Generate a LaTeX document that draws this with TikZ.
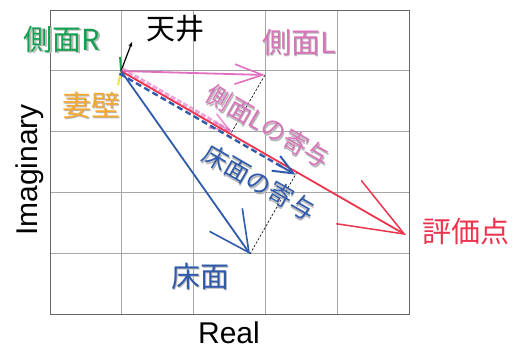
\documentclass[tikz,border=0pt]{standalone}
\usepackage{fontspec}
\setmainfont{Liberation Sans}
\newfontfamily\jp{Noto Sans CJK JP}
\usetikzlibrary{arrows.meta,calc}
\definecolor{cgreen}{RGB}{20,160,80}
\definecolor{corange}{RGB}{245,168,50}
\definecolor{cpink}{RGB}{214,118,184}
\definecolor{cpinkline}{RGB}{225,110,190}
\definecolor{cred}{RGB}{236,52,78}
\definecolor{cblue}{RGB}{48,90,170}
\definecolor{cyellow}{RGB}{240,225,40}
\newcommand\shadowtxt[2]{\makebox[0pt][l]{\kern1.5pt\raisebox{-1.5pt}{\textcolor{black!28}{#2}}}\textcolor{#1}{#2}}
\tikzset{
  gridline/.style={draw=black!35, line width=0.8pt},
  border/.style={draw=black!60, line width=1pt},
  vec/.style={line width=1.8pt},
  proj/.style={draw=black, line width=0.6pt, dash pattern=on 2.5pt off 1.5pt},
  lbl/.style={inner sep=0pt, font=\jp\fontsize{29}{29}\selectfont},
  slbl/.style={inner sep=0pt, font=\jp\fontsize{25}{25}\selectfont, rotate=-30},
  axis/.style={inner sep=0pt, font=\fontsize{30}{30}\selectfont},
}
\begin{document}
\begin{tikzpicture}[x=1pt,y=-1pt]
\useasboundingbox (0,0) rectangle (531,349);
% grid
\foreach \i in {1,...,4} {
  \draw[gridline] ({50+\i*71.8},10) -- ({50+\i*71.8},314);
  \draw[gridline] (50,{10+\i*60.8}) -- (409,{10+\i*60.8});
}
\draw[border] (50,10) rectangle (409,314);
% coordinates
\coordinate (O) at (121,71);
\coordinate (ceil) at (132,42);
\coordinate (sR) at (120,57);
\coordinate (wall) at (118,85);
\coordinate (sL) at (265,75);
\coordinate (eval) at (406,235);
\coordinate (floor) at (250,254);
\coordinate (projL) at (230.5,134);
\coordinate (projF) at (297,172);
\coordinate (OL) at (122.3,68.8);
\coordinate (projLs) at (231.8,131.8);
\coordinate (OF) at (119.5,73.6);
\coordinate (projFs) at (295.5,174.6);
\coordinate (pinkA) at ($(OL)!0.85!(projLs)$);
\coordinate (blueA) at ($(OF)!0.93!(projFs)$);
\coordinate (blueB) at ($(OF)!0.9!(projFs)$);
% projection lines
\draw[proj] (sL) -- (projL);
\draw[proj] (floor) -- (projF);
% vectors
\draw[vec, cgreen] (O) -- (sR);
\draw[vec, cyellow] (O) -- (wall);
\draw[line width=1.2pt, black, -{Stealth[length=5pt,width=4pt]}] (O) -- (ceil);
\draw[vec, cpinkline, -{Straight Barb[length=28pt,width=20pt,line width=1.6pt]}] (O) -- (sL);
\draw[line width=3.5pt, cpinkline, opacity=0.6, dash pattern=on 5pt off 2pt] (OL) -- (projLs);
\draw[line width=1.6pt, cpinkline, opacity=0.75, -{Straight Barb[length=20pt,width=16pt]}] (pinkA) -- (projLs);
\draw[vec, cred, -{Straight Barb[length=64pt,width=50pt,line width=1.5pt]}] (O) -- (eval);
\draw[line width=2.4pt, cblue, dash pattern=on 6pt off 3.5pt] (OF) -- (blueA);
\draw[line width=2pt, cblue, -{Straight Barb[length=20pt,width=17pt]}] (blueB) -- (projFs);
\draw[vec, cblue, -{Straight Barb[length=40pt,width=40pt,line width=1.6pt]}] (O) -- (floor);
% labels
\node[lbl] (tR) at (62,40) {\shadowtxt{cgreen}{側面R}};
\node[lbl] (tC) at (175,29) {\textcolor{black}{天井}};
\node[lbl] (tL) at (299,43) {\shadowtxt{cpink}{側面L}};
\node[lbl] (tW) at (91,106) {\shadowtxt{corange}{妻壁}};
\node[slbl] (tLc) at (268,127) {\shadowtxt{cpink}{側面Lの寄与}};
\node[slbl] (tFc) at (259,183) {\shadowtxt{cblue}{床面の寄与}};
\node[lbl] (tF) at (200,277) {\shadowtxt{cblue}{床面}};
\node[lbl] (tE) at (466,231) {\textcolor{cred}{評価点}};
\node[axis] (xr) at (229,333) {Real};
\node[axis, rotate=90] (yi) at (30,170) {Imaginary};
\end{tikzpicture}
\end{document}
